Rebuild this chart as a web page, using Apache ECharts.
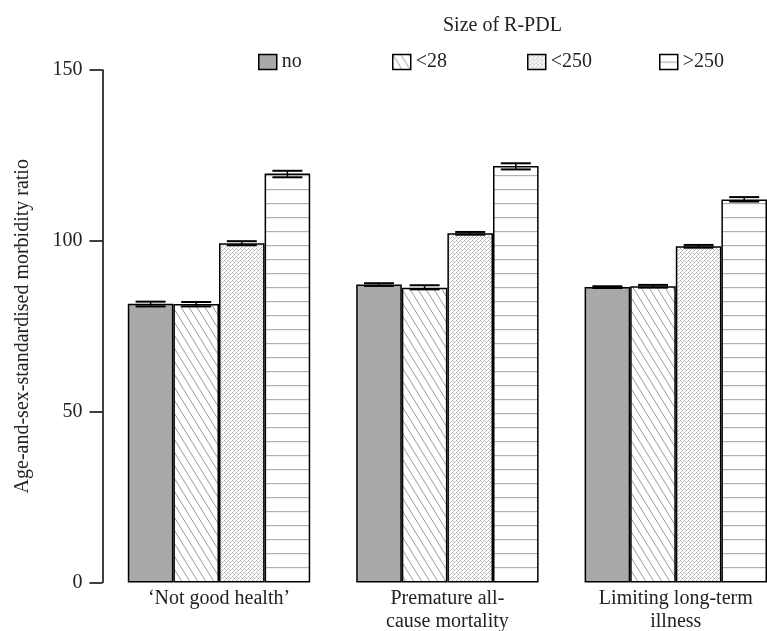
<!DOCTYPE html>
<html>
<head>
<meta charset="utf-8">
<script src="https://cdn.jsdelivr.net/npm/echarts@6/dist/echarts.min.js"></script>
<style>
  html, body { margin: 0; padding: 0; background: #fff; }
  #chart { width: 767px; height: 631px; }
</style>
</head>
<body>
<div id="chart"></div>
<script>
// categories and R-PDL size classes
const categories = ['\u2018Not good health\u2019', 'Premature all-\ncause mortality', 'Limiting long-term\nillness']
const sizeNames = ['no', '<28', '<250', '>250']

// age-and-sex-standardised morbidity ratios
const valNo = [81.6, 87.2, 86.5]
const val28 = [81.5, 86.3, 86.7]
const val250 = [99.3, 102.2, 98.4]
const valOver250 = [119.7, 121.9, 112.1]

// confidence intervals (lower / upper)
const lowNo = [80.8, 86.8, 86.2]
const highNo = [82.2, 87.6, 86.7]
const low28 = [80.8, 85.8, 86.3]
const high28 = [82.1, 87.0, 87.1]
const low250 = [98.7, 101.8, 98.0]
const high250 = [99.9, 102.6, 98.8]
const lowOver250 = [118.6, 120.9, 111.5]
const highOver250 = [120.5, 122.7, 112.8]

const yTicks = [0, 50, 100, 150]

const FONT = 'Liberation Serif'
const barW = 45.6

// 填充图案
function makePattern(w, h, draw) {
  const c = document.createElement('canvas')
  c.width = w
  c.height = h
  const ctx = c.getContext('2d')
  ctx.fillStyle = '#fff'
  ctx.fillRect(0, 0, w, h)
  draw(ctx, w, h)
  return { image: c, repeat: 'repeat' }
}

// <28 : 斜线
const hatchDiag = makePattern(8, 13, (ctx, w, h) => {
  ctx.strokeStyle = '#9a9a9a'
  ctx.lineWidth = 1
  for (let k = -1; k <= 1; k++) {
    ctx.beginPath()
    ctx.moveTo(k * w - 1, -h / w)
    ctx.lineTo(k * w + w + 1, h + h / w)
    ctx.stroke()
  }
})

// <250 : 细密纹理
const hatchFine = makePattern(4, 4, (ctx) => {
  ctx.fillStyle = '#b0b0b0'
  ctx.fillRect(0, 0, 1, 1)
  ctx.fillRect(2, 2, 1, 1)
  ctx.fillStyle = '#c8c8c8'
  ctx.fillRect(1, 3, 1, 1)
  ctx.fillRect(3, 1, 1, 1)
  ctx.fillRect(1, 1, 1, 1)
})

// >250 : 横线
const hatchHoriz = makePattern(10, 14.6, (ctx, w) => {
  ctx.fillStyle = '#b0b0b0'
  ctx.fillRect(0, 7, w, 1.2)
})

const fills = ['#a9a9a9', hatchDiag, hatchFine, hatchHoriz]
const values = [valNo, val28, val250, valOver250]
const lows = [lowNo, low28, low250, lowOver250]
const highs = [highNo, high28, high250, highOver250]

const barSeries = sizeNames.map((name, k) => ({
  name: name,
  type: 'bar',
  barWidth: barW,
  barGap: '0%',
  data: values[k],
  itemStyle: {
    color: fills[k],
    borderColor: '#000',
    borderWidth: 1.5
  },
  emphasis: { disabled: true },
  animation: false
}))

const errorSeries = sizeNames.map((name, k) => ({
  name: name + ' CI',
  type: 'custom',
  z: 10,
  animation: false,
  data: lows[k].map((v, i) => [i, v, highs[k][i]]),
  encode: { x: 0, y: [1, 2] },
  renderItem: function (params, api) {
    const lo = api.coord([api.value(0), api.value(1)])
    const hi = api.coord([api.value(0), api.value(2)])
    const x = lo[0] + (k - 1.5) * barW
    const half = 15
    const st = { stroke: '#000', lineWidth: 2 }
    return {
      type: 'group',
      children: [
        { type: 'line', shape: { x1: x - half, y1: hi[1], x2: x + half, y2: hi[1] }, style: st },
        { type: 'line', shape: { x1: x - half, y1: lo[1], x2: x + half, y2: lo[1] }, style: st },
        { type: 'line', shape: { x1: x, y1: hi[1], x2: x, y2: lo[1] }, style: { stroke: '#000', lineWidth: 1.5 } }
      ]
    }
  }
}))

const legendLeft = [253, 387, 522, 654]
const legends = sizeNames.map((name, k) => ({
  data: [name],
  left: legendLeft[k],
  top: 47,
  itemWidth: 18,
  itemHeight: 15,
  itemGap: 5,
  icon: 'rect',
  selectedMode: false,
  itemStyle: { borderColor: '#000', borderWidth: 1.5 },
  textStyle: { fontFamily: FONT, fontSize: 20, color: '#222', padding: [0, 0, 0, 0] }
}))

const chart = echarts.init(document.getElementById('chart'))
chart.setOption({
  backgroundColor: '#fff',
  title: {
    text: 'Size of R-PDL',
    left: 438,
    top: 11,
    textStyle: { fontFamily: FONT, fontSize: 20, fontWeight: 'normal', color: '#222' }
  },
  legend: legends,
  grid: { left: 104.8, top: 70, width: 685.2, bottom: 48.5, containLabel: false, outerBoundsMode: 'none' },
  xAxis: {
    type: 'category',
    data: categories,
    axisLine: { show: false },
    axisTick: { show: false },
    axisLabel: { fontFamily: FONT, fontSize: 20, color: '#222', margin: 5, lineHeight: 23, interval: 0 }
  },
  yAxis: {
    type: 'value',
    min: yTicks[0],
    max: yTicks[yTicks.length - 1],
    interval: 50,
    offset: 2.3,
    name: 'Age-and-sex-standardised morbidity ratio',
    nameLocation: 'middle',
    nameGap: 70,
    nameTextStyle: { fontFamily: FONT, fontSize: 20, color: '#222' },
    axisLine: { show: true, lineStyle: { color: '#000', width: 1.5 } },
    axisTick: { show: true, length: 13, lineStyle: { color: '#000', width: 1.5 } },
    axisLabel: { fontFamily: FONT, fontSize: 20, color: '#222', margin: 20 },
    splitLine: { show: false }
  },
  series: barSeries.concat(errorSeries)
})
</script>
</body>
</html>
